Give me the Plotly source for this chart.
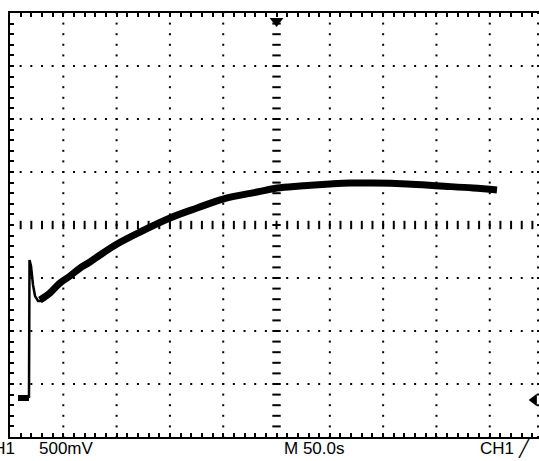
import numpy as np
import plotly.graph_objects as go

# ---- data (time in s, voltage in V, 50 s/div, 500 mV/div) ----
ground_t = [7.5, 17.8]
ground_v = [0.0, 0.0]

spike_t = [17.8, 18.3, 19.7, 21.6, 23.5, 26.3, 31.0]
spike_v = [0.0, 1.302, 1.245, 1.066, 0.962, 0.915, 0.915]

curve_t = [28.1, 37.5, 46.9, 56.3, 65.7, 75.0, 84.4, 100.4, 122.0, 150.1, 175.4,
           199.8, 231.7, 250.5, 272.0, 300.2, 318.9, 340.5, 372.4, 403.4, 434.3, 456.8]
curve_v = [0.925, 0.991, 1.085, 1.151, 1.226, 1.283, 1.349, 1.453, 1.566, 1.698, 1.792,
           1.877, 1.943, 1.981, 2.000, 2.019, 2.028, 2.028, 2.019, 2.000, 1.981, 1.962]

label_left_ch = "CH1"
label_left_scale = "500mV"
label_mid = "M 50.0s"
label_right = "CH1 \u2571"

# ---- screen geometry (divisions) ----
t_per_div = 50.0
v_per_div = 0.5
v_center = 1.632
x_range = [0, 496.2]
y_range = [v_center - 4 * v_per_div, v_center + 4 * v_per_div]

fig = go.Figure()

# grid dots
gx, gy = [], []
sub_v = v_center + v_per_div * np.arange(-20, 21) / 5.0
sub_t = t_per_div * np.arange(1, 50) / 5.0
for k in [1, 2, 3, 4, 6, 7, 8, 9]:
    gx += [k * t_per_div] * len(sub_v)
    gy += list(sub_v)
gx += [495.3] * len(sub_v)
gy += list(sub_v)
for m in [-3, -2, -1, 1, 2, 3]:
    gx += list(sub_t)
    gy += [v_center + m * v_per_div] * len(sub_t)
fig.add_trace(go.Scatter(x=gx, y=gy, mode="markers",
                         marker=dict(symbol="square", size=2, color="black", line=dict(width=0)),
                         hoverinfo="skip", showlegend=False))

# center axes ticks
ct = t_per_div * np.arange(1, 50) / 5.0
fig.add_trace(go.Scatter(x=ct, y=[v_center] * len(ct), mode="markers",
                         marker=dict(symbol="line-ns", size=6, line=dict(width=2, color="black")),
                         hoverinfo="skip", showlegend=False))
cv = v_center + v_per_div * np.arange(-19, 20) / 5.0
fig.add_trace(go.Scatter(x=[5 * t_per_div] * len(cv), y=cv, mode="markers",
                         marker=dict(symbol="line-ew", size=6, line=dict(width=2, color="black")),
                         hoverinfo="skip", showlegend=False))

# waveform
fig.add_trace(go.Scatter(x=ground_t, y=ground_v, mode="lines",
                         line=dict(color="black", width=6), showlegend=False))
fig.add_trace(go.Scatter(x=spike_t, y=spike_v, mode="lines",
                         line=dict(color="black", width=2.5), showlegend=False))
fig.add_trace(go.Scatter(x=curve_t, y=curve_v, mode="lines",
                         line=dict(color="black", width=7, shape="spline"), showlegend=False))

# trigger markers
fig.add_trace(go.Scatter(x=[250.0], y=[3.557], mode="markers", cliponaxis=False,
                         marker=dict(symbol="triangle-down", size=12, color="black"),
                         hoverinfo="skip", showlegend=False))
fig.add_trace(go.Scatter(x=[491.6], y=[-0.019], mode="markers", cliponaxis=False,
                         marker=dict(symbol="triangle-left", size=11, color="black"),
                         hoverinfo="skip", showlegend=False))

font = dict(family="Liberation Sans, Arial, sans-serif", size=17, color="black")
fig.add_annotation(text=label_left_ch, xref="paper", yref="paper", x=(17 - 10) / 529, y=-0.028,
                   xanchor="right", yanchor="middle", showarrow=False, font=font)
fig.add_annotation(text=label_left_scale, xref="paper", yref="paper", x=(37 - 10) / 529, y=-0.028,
                   xanchor="left", yanchor="middle", showarrow=False, font=font)
fig.add_annotation(text=label_mid, xref="paper", yref="paper", x=(282 - 10) / 529, y=-0.028,
                   xanchor="left", yanchor="middle", showarrow=False, font=font)
fig.add_annotation(text=label_right, xref="paper", yref="paper", x=(478 - 10) / 529, y=-0.028,
                   xanchor="left", yanchor="middle", showarrow=False, font=font)

fig.update_layout(
    width=539, height=461,
    margin=dict(l=10, r=0, t=13, b=24),
    paper_bgcolor="white", plot_bgcolor="white",
    xaxis=dict(range=x_range, showgrid=False, zeroline=False, showticklabels=False,
               showline=True, linecolor="black", linewidth=2, mirror="ticks",
               ticks="inside", ticklen=4, tickwidth=2, tickcolor="black",
               tick0=0, dtick=t_per_div / 5),
    yaxis=dict(range=y_range, showgrid=False, zeroline=False, showticklabels=False,
               showline=True, linecolor="black", linewidth=2,
               ticks="inside", ticklen=4, tickwidth=2, tickcolor="black",
               tick0=v_center, dtick=v_per_div / 5),
)

fig.write_html("out.html")
